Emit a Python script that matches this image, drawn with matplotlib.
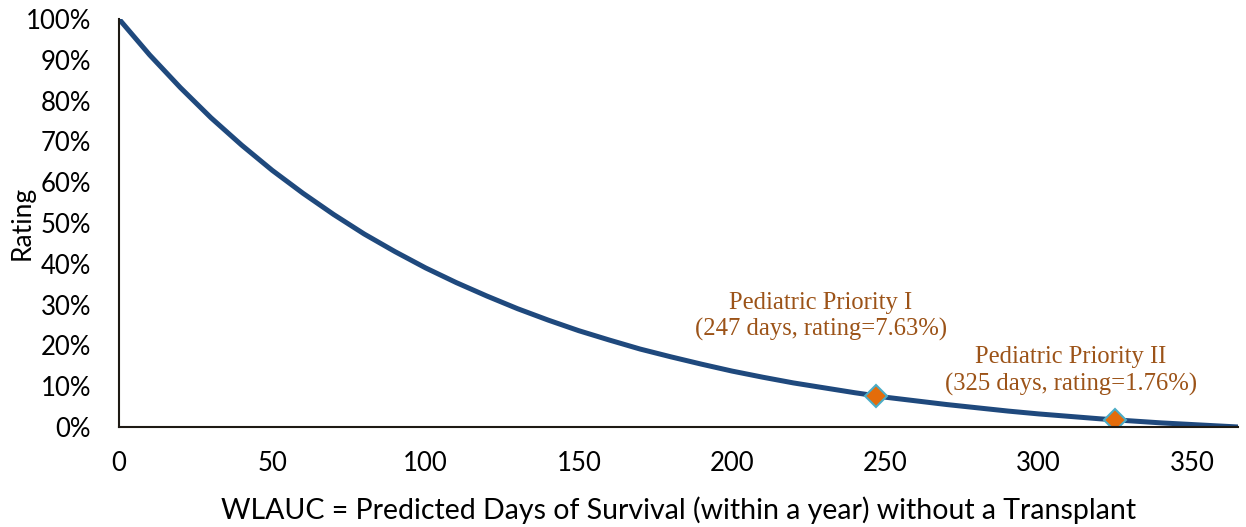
import matplotlib
matplotlib.use('Agg')
import matplotlib.pyplot as plt
from matplotlib.ticker import PercentFormatter

# rating curve (days, rating in %)
days = [0, 10, 20, 30, 40, 50, 60, 70, 80, 90, 100, 110, 120, 130, 140, 150,
        160, 170, 180, 190, 200, 210, 220, 230, 240, 250, 260, 270, 280, 290,
        300, 310, 320, 330, 340, 350, 360, 365]
rating = [100.0, 91.2, 83.2, 75.8, 69.1, 62.9, 57.3, 52.1, 47.3, 43.0, 39.0,
          35.4, 32.1, 29.0, 26.2, 23.6, 21.3, 19.1, 17.2, 15.4, 13.7, 12.2,
          10.8, 9.6, 8.4, 7.3, 6.4, 5.5, 4.7, 3.9, 3.2, 2.6, 2.0, 1.5, 1.0,
          0.6, 0.2, 0.0]

# highlighted points
pt_days = [247, 325]
pt_rating = [7.63, 1.76]
pt_names = ['Pediatric Priority I', 'Pediatric Priority II']

xticks = [0, 50, 100, 150, 200, 250, 300, 350]
yticks = [0, 10, 20, 30, 40, 50, 60, 70, 80, 90, 100]

fig = plt.figure(figsize=(12.46, 5.27), dpi=100)
ax = fig.add_axes([0.0955, 0.1898, 0.898, 0.7741])

ax.plot(days, rating, color='#1F497D', linewidth=3.6, solid_capstyle='round')
ax.plot(pt_days, pt_rating, linestyle='none', marker='D', markersize=11,
        markerfacecolor='#E46C0A', markeredgecolor='#4BACC6', markeredgewidth=1.5)

# labels above the points
offsets = [(-40, 57), (-32, 35)]
for d, r, name, off in zip(pt_days, pt_rating, pt_names, offsets):
    ax.annotate(f'{name}\n({d} days, rating={r:.2f}%)', xy=(d, r),
                xytext=(off[0], off[1]), textcoords='offset points',
                ha='center', va='center', color='#9C5318',
                family='Liberation Serif', fontsize=17.7, linespacing=1.25)

ax.set_xlim(0, 365)
ax.set_ylim(0, 100)
ax.set_xticks(xticks)
ax.set_yticks(yticks)
ax.yaxis.set_major_formatter(PercentFormatter(decimals=0))
ax.tick_params(length=0, labelsize=18.5)
ax.tick_params(axis='x', pad=17)
ax.tick_params(axis='y', pad=20)
for lab in ax.get_xticklabels() + ax.get_yticklabels():
    lab.set_family('Lato')

for s in ['top', 'right']:
    ax.spines[s].set_visible(False)
for s in ['left', 'bottom']:
    ax.spines[s].set_color('#1E1A14')
    ax.spines[s].set_linewidth(1.5)

ax.set_xlabel('WLAUC = Predicted Days of Survival (within a year) without a Transplant',
              fontsize=20.5, family='Lato', labelpad=15)
ax.set_ylabel('Rating', fontsize=19, family='Lato')
ax.yaxis.set_label_coords(-0.0867, 0.5)
ax.yaxis.label.set_verticalalignment('center')

fig.savefig('out.png', dpi=100)
